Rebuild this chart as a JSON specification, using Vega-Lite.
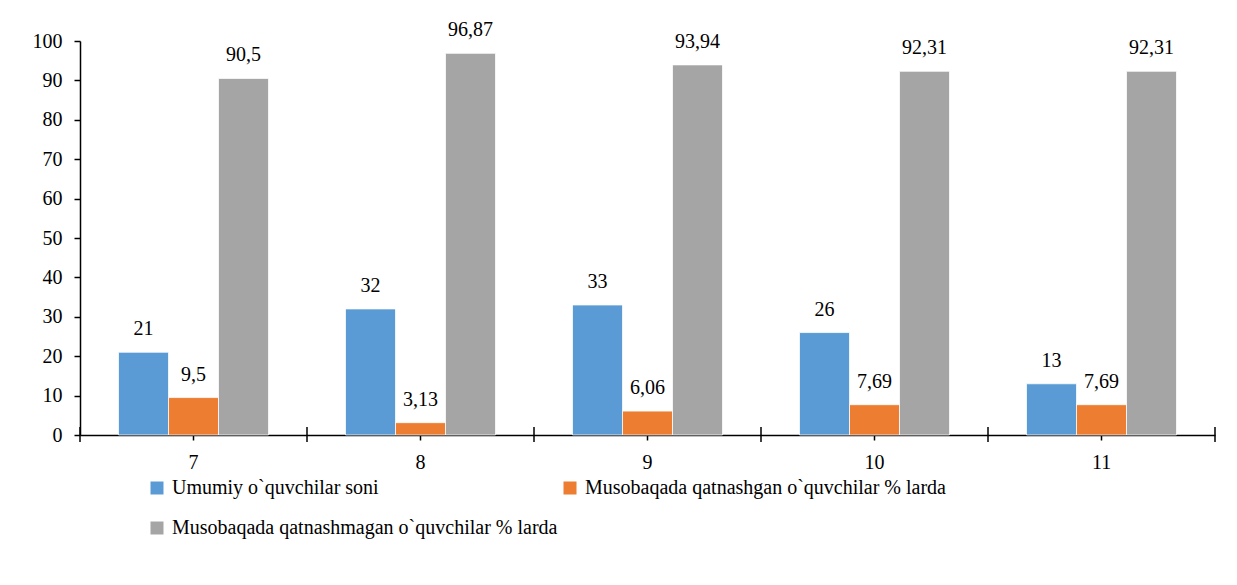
{
  "$schema": "https://vega.github.io/schema/vega-lite/v6.json",
  "width": 1135,
  "height": 394,
  "autosize": {"type": "none"},
  "padding": {"left": 80, "top": 41, "right": 22, "bottom": 150},
  "background": "white",
  "config": {
    "view": {"stroke": null},
    "axisX": {
      "title": null, "labelAngle": 0, "labelFontSize": 20, "labelColor": "black", "labelFont": "Liberation Serif",
      "labelPadding": 12, "ticks": true, "tickSize": 5, "tickColor": "#000000", "tickWidth": 1.5,
      "domainColor": "black", "domainWidth": 1.5, "grid": false, "labelOverlap": false
    },
    "axisY": {
      "title": null, "grid": false, "ticks": true, "tickSize": 6, "labelOverlap": false,
      "labelFontSize": 20, "labelColor": "black", "labelPadding": 12, "labelFont": "Liberation Serif",
      "tickColor": "#000000", "tickWidth": 1.5, "domainColor": "black", "domainWidth": 1.5
    }
  },
  "data": {
    "values": [
      {"cls": 7, "series": "Umumiy o`quvchilar soni", "value": 21, "label": "21"},
      {"cls": 7, "series": "Musobaqada qatnashgan o`quvchilar % larda", "value": 9.5, "label": "9,5"},
      {"cls": 7, "series": "Musobaqada qatnashmagan o`quvchilar % larda", "value": 90.5, "label": "90,5"},
      {"cls": 8, "series": "Umumiy o`quvchilar soni", "value": 32, "label": "32"},
      {"cls": 8, "series": "Musobaqada qatnashgan o`quvchilar % larda", "value": 3.13, "label": "3,13"},
      {"cls": 8, "series": "Musobaqada qatnashmagan o`quvchilar % larda", "value": 96.87, "label": "96,87"},
      {"cls": 9, "series": "Umumiy o`quvchilar soni", "value": 33, "label": "33"},
      {"cls": 9, "series": "Musobaqada qatnashgan o`quvchilar % larda", "value": 6.06, "label": "6,06"},
      {"cls": 9, "series": "Musobaqada qatnashmagan o`quvchilar % larda", "value": 93.94, "label": "93,94"},
      {"cls": 10, "series": "Umumiy o`quvchilar soni", "value": 26, "label": "26"},
      {"cls": 10, "series": "Musobaqada qatnashgan o`quvchilar % larda", "value": 7.69, "label": "7,69"},
      {"cls": 10, "series": "Musobaqada qatnashmagan o`quvchilar % larda", "value": 92.31, "label": "92,31"},
      {"cls": 11, "series": "Umumiy o`quvchilar soni", "value": 13, "label": "13"},
      {"cls": 11, "series": "Musobaqada qatnashgan o`quvchilar % larda", "value": 7.69, "label": "7,69"},
      {"cls": 11, "series": "Musobaqada qatnashmagan o`quvchilar % larda", "value": 92.31, "label": "92,31"}
    ]
  },
  "layer": [
    {
      "mark": {"type": "bar", "stroke": "white", "strokeWidth": 0.75},
      "encoding": {
        "x": {
          "field": "cls", "type": "ordinal",
          "scale": {"paddingInner": 0, "paddingOuter": 0},
          "axis": {"ticks": true, "tickSize": 5}
        },
        "xOffset": {
          "field": "series", "type": "nominal",
          "sort": ["Umumiy o`quvchilar soni", "Musobaqada qatnashgan o`quvchilar % larda", "Musobaqada qatnashmagan o`quvchilar % larda"],
          "scale": {"paddingInner": 0, "paddingOuter": 0.77}
        },
        "y": {
          "field": "value", "type": "quantitative",
          "scale": {"domain": [0, 100], "nice": false},
          "axis": {"values": [0, 10, 20, 30, 40, 50, 60, 70, 80, 90, 100], "ticks": true, "tickSize": 6}
        },
        "color": {
          "field": "series", "type": "nominal",
          "scale": {
            "domain": ["Umumiy o`quvchilar soni", "Musobaqada qatnashmagan o`quvchilar % larda", "Musobaqada qatnashgan o`quvchilar % larda"],
            "range": ["#5B9BD5", "#A5A5A5", "#ED7D31"]
          },
          "legend": {
            "orient": "none", "legendX": 67, "legendY": 437, "columns": 2, "title": null,
            "symbolType": "square", "symbolSize": 169, "symbolStrokeWidth": 0,
            "labelFontSize": 20, "labelColor": "black", "labelFont": "Liberation Serif",
            "rowPadding": 20, "columnPadding": 2, "labelOffset": 5, "labelLimit": 0
          }
        }
      }
    },
    {
      "mark": {"type": "text", "baseline": "alphabetic", "dy": -17, "fontSize": 20, "color": "black", "font": "Liberation Serif"},
      "encoding": {
        "x": {"field": "cls", "type": "ordinal", "axis": {"ticks": true, "tickSize": 5}},
        "xOffset": {
          "field": "series", "type": "nominal",
          "sort": ["Umumiy o`quvchilar soni", "Musobaqada qatnashgan o`quvchilar % larda", "Musobaqada qatnashmagan o`quvchilar % larda"]
        },
        "y": {"field": "value", "type": "quantitative", "axis": {"values": [0, 10, 20, 30, 40, 50, 60, 70, 80, 90, 100], "ticks": true, "tickSize": 6}},
        "text": {"field": "label"}
      }
    },
    {
      "transform": [{"filter": {"field": "series", "equal": "Umumiy o`quvchilar soni"}}],
      "mark": {"type": "rule", "color": "black", "strokeWidth": 1.5},
      "encoding": {
        "x": {"field": "cls", "type": "ordinal", "bandPosition": 0, "axis": {"ticks": true, "tickSize": 5}},
        "y": {"datum": -1.8, "axis": {"values": [0, 10, 20, 30, 40, 50, 60, 70, 80, 90, 100], "ticks": true, "tickSize": 6}},
        "y2": {"datum": 2}
      }
    },
    {
      "transform": [{"filter": {"field": "series", "equal": "Umumiy o`quvchilar soni"}}, {"filter": {"field": "cls", "equal": 11}}],
      "mark": {"type": "rule", "color": "black", "strokeWidth": 1.5},
      "encoding": {
        "x": {"field": "cls", "type": "ordinal", "bandPosition": 1, "axis": {"ticks": true, "tickSize": 5}},
        "y": {"datum": -1.8, "axis": {"values": [0, 10, 20, 30, 40, 50, 60, 70, 80, 90, 100], "ticks": true, "tickSize": 6}},
        "y2": {"datum": 2}
      }
    }
  ]
}
